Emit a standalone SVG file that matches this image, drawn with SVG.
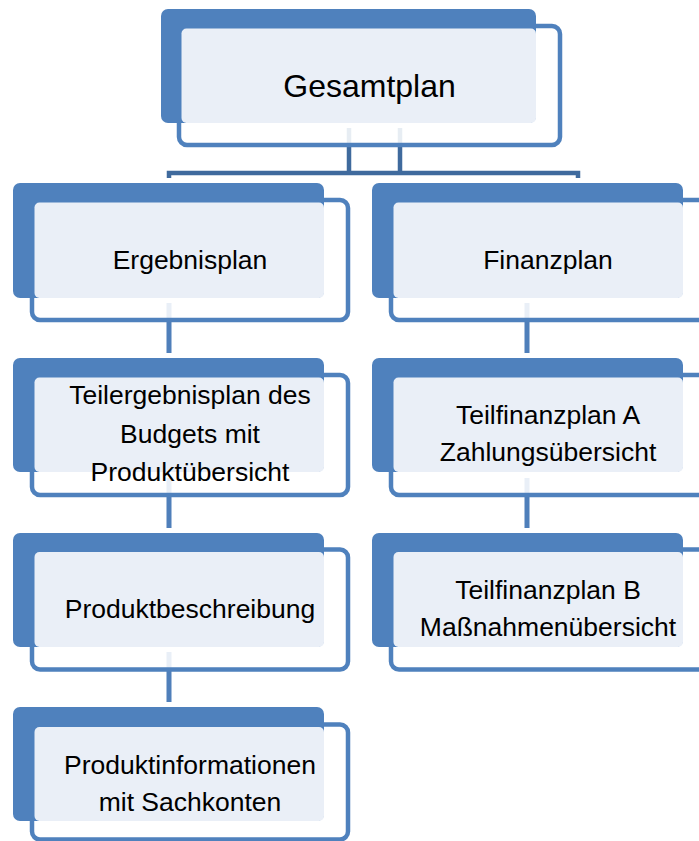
<svg xmlns="http://www.w3.org/2000/svg" width="699" height="841" viewBox="0 0 699 841">
<style>
.blk{fill:#4f81bd}
.frm{fill:#ffffff;fill-opacity:0.88;stroke:#4f81bd;stroke-width:4.5}
.pnl{fill:#eaeff7}
.t{font-family:"Liberation Sans",Arial,sans-serif;font-size:26.5px;fill:#000;text-anchor:middle}
.big{font-size:32px}
.c1{fill:none;stroke:#3f6a9d;stroke-width:4.5}
.c2{fill:none;stroke:#4f7fba;stroke-width:5}
</style>
<g id="connectors">
<path class="c1" d="M349,128V173M400,128V173M169,178V173H578V178"/>
<path class="c2" d="M169,303V353M169,478V528M169,652V702M527,303V353M527,478V528"/>
</g>
<g id="gesamtplan">
<rect class="frm" x="179" y="26" width="381" height="119" rx="8"/>
<rect class="blk" x="161" y="9" width="375" height="114" rx="7"/>
<rect class="pnl" x="181.5" y="28.5" width="354.5" height="94.5" rx="5"/>
<text class="t big" x="369.5" y="97">Gesamtplan</text>
</g>
<g id="ergebnisplan">
<rect class="frm" x="32" y="200" width="316" height="120" rx="8"/>
<rect class="blk" x="13" y="183" width="311" height="115" rx="7"/>
<rect class="pnl" x="34.5" y="202.5" width="289.5" height="95.5" rx="5"/>
<text class="t" x="190" y="269">Ergebnisplan</text>
</g>
<g id="finanzplan">
<rect class="frm" x="391" y="200" width="316" height="120" rx="8"/>
<rect class="blk" x="372" y="183" width="311" height="115" rx="7"/>
<rect class="pnl" x="393.5" y="202.5" width="289.5" height="95.5" rx="5"/>
<text class="t" x="548" y="269">Finanzplan</text>
</g>
<g id="teilergebnisplan">
<rect class="frm" x="32" y="375" width="316" height="120" rx="8"/>
<rect class="blk" x="13" y="358" width="311" height="114" rx="7"/>
<rect class="pnl" x="34.5" y="377.5" width="289.5" height="94.5" rx="5"/>
<text class="t" x="190" y="404">Teilergebnisplan des</text>
<text class="t" x="190" y="442.5">Budgets mit</text>
<text class="t" x="190" y="481">Produktübersicht</text>
</g>
<g id="teilfinanzplan-a">
<rect class="frm" x="391" y="375" width="316" height="120" rx="8"/>
<rect class="blk" x="372" y="358" width="311" height="114" rx="7"/>
<rect class="pnl" x="393.5" y="377.5" width="289.5" height="94.5" rx="5"/>
<text class="t" x="548" y="424">Teilfinanzplan A</text>
<text class="t" x="548" y="461">Zahlungsübersicht</text>
</g>
<g id="produktbeschreibung">
<rect class="frm" x="32" y="549.5" width="316" height="120" rx="8"/>
<rect class="blk" x="13" y="533" width="311" height="114" rx="7"/>
<rect class="pnl" x="34.5" y="552" width="289.5" height="95" rx="5"/>
<text class="t" x="190" y="618">Produktbeschreibung</text>
</g>
<g id="teilfinanzplan-b">
<rect class="frm" x="391" y="549.5" width="316" height="120" rx="8"/>
<rect class="blk" x="372" y="533" width="311" height="114" rx="7"/>
<rect class="pnl" x="393.5" y="552" width="289.5" height="95" rx="5"/>
<text class="t" x="548" y="599">Teilfinanzplan B</text>
<text class="t" x="548" y="636">Maßnahmenübersicht</text>
</g>
<g id="produktinformationen">
<rect class="frm" x="32" y="724.5" width="316" height="115" rx="8"/>
<rect class="blk" x="13" y="707" width="311" height="114" rx="7"/>
<rect class="pnl" x="34.5" y="727" width="289.5" height="94" rx="5"/>
<text class="t" x="190" y="774">Produktinformationen</text>
<text class="t" x="190" y="811">mit Sachkonten</text>
</g>
</svg>
